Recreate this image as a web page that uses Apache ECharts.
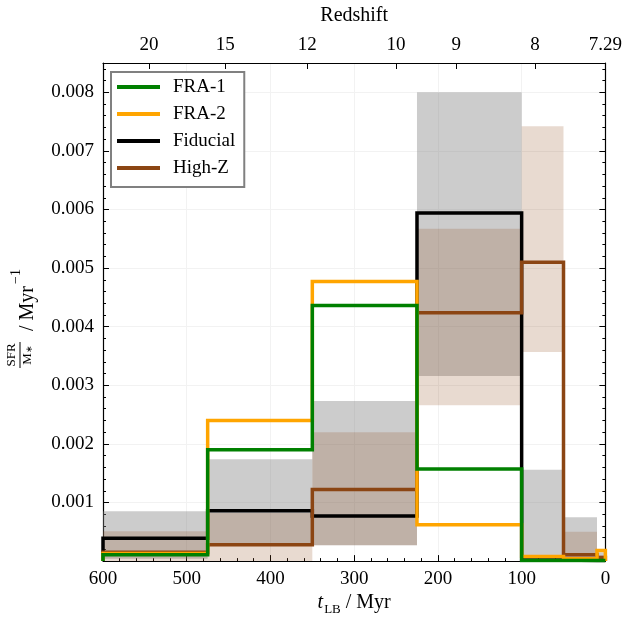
<!DOCTYPE html>
<html>
<head>
<meta charset="utf-8">
<script src="https://cdn.jsdelivr.net/npm/echarts@6/dist/echarts.min.js"></script>
<style>
html, body { margin: 0; padding: 0; background: #fff; }
#sfh { width: 625px; height: 621px; }
</style>
</head>
<body>
<div id="sfh"></div>
<script>
// lookback time bin edges (Myr), oldest bin first
var binEdges = [600, 475, 350, 225, 100, 50, 10, 0];

// SFR / M* per bin (Myr^-1), same order as the bins
var fra1 = [0.00011, 0.0019, 0.00436, 0.00157, 0.00001, 0.00001, 0.00001];
var fra2 = [0.00013, 0.0024, 0.00477, 0.00062, 0.00008, 0.00004, 0.00018];
var fiducial = [0.00039, 0.00086, 0.00077, 0.00594, 0.00002, 0.00001, 0.00001];
var highZ = [0.00015, 0.00028, 0.00122, 0.00424, 0.0051, 0.00011, 0.00006];

// 16-84 percentile bands
var fiducialLo = [0.00004, 0.00026, 0.00027, 0.00316, 0.00002, 0.00005, 0.00001];
var fiducialHi = [0.00085, 0.00174, 0.00273, 0.0080, 0.00156, 0.00075, 0.00015];
var highZLo = [0.0, 0.0, 0.00027, 0.00266, 0.00357, 0.00003, 0.0];
var highZHi = [0.00051, 0.00082, 0.0022, 0.00567, 0.00742, 0.0005, 0.0001];

// top axis: redshift labels and where they sit in lookback time
var zLabels = ['20', '15', '12', '10', '9', '8', '7.29'];
var zLookback = [545, 454, 356, 250, 178, 84, 0];

var FONT = 'Liberation Serif';

// stairs: drop to zero at both ends like plt.stairs
function stairs(vals) {
    var pts = [[binEdges[0], 0]];
    for (var i = 0; i < vals.length; i++) {
        pts.push([binEdges[i], vals[i]]);
    }
    pts.push([binEdges[binEdges.length - 1], vals[vals.length - 1]]);
    pts.push([binEdges[binEdges.length - 1], 0]);
    return pts;
}

function bands(lo, hi) {
    var rows = [];
    for (var i = 0; i < lo.length; i++) {
        rows.push([binEdges[i], binEdges[i + 1], lo[i], hi[i]]);
    }
    return rows;
}

function bandSeries(name, rows, fill) {
    return {
        name: name,
        type: 'custom',
        data: rows,
        encode: { x: [0, 1], y: [2, 3] },
        silent: true,
        renderItem: function (params, api) {
            var a = api.coord([api.value(0), api.value(3)]);
            var b = api.coord([api.value(1), api.value(2)]);
            return {
                type: 'rect',
                shape: {
                    x: Math.min(a[0], b[0]),
                    y: Math.min(a[1], b[1]),
                    width: Math.abs(b[0] - a[0]),
                    height: Math.abs(b[1] - a[1])
                },
                style: { fill: fill }
            };
        }
    };
}

function stepSeries(name, vals, color) {
    return {
        name: name,
        type: 'line',
        step: 'end',
        data: stairs(vals),
        showSymbol: false,
        color: color,
        lineStyle: { color: color, width: 3.5, join: 'miter' },
        itemStyle: { color: color }
    };
}

var myChart = echarts.init(document.getElementById('sfh'));
myChart.setOption({
    animation: false,
    textStyle: { fontFamily: FONT },
    grid: { left: 103, right: 19, top: 63, bottom: 57 },
    legend: {
        data: ['FRA-1', 'FRA-2', 'Fiducial', 'High-Z'],
        orient: 'vertical',
        left: 111,
        top: 72,
        icon: 'rect',
        itemWidth: 43,
        itemHeight: 4,
        itemGap: 7,
        padding: [5, 9, 9, 6],
        borderColor: '#808080',
        borderWidth: 2,
        backgroundColor: '#fff',
        textStyle: { fontFamily: FONT, fontSize: 19, color: '#000', lineHeight: 20, padding: [0, 0, 0, 8] }
    },
    xAxis: [
        {
            type: 'value',
            min: 0,
            max: 600,
            interval: 100,
            inverse: true,
            name: '{i|t}{s|LB}{n| / Myr}',
            nameLocation: 'middle',
            nameGap: 30,
            nameTextStyle: {
                color: '#000',
                rich: {
                    i: { fontFamily: FONT, fontSize: 20, fontStyle: 'italic', verticalAlign: 'top', lineHeight: 22 },
                    s: { fontFamily: FONT, fontSize: 13, verticalAlign: 'top', padding: [10, 0, 0, 1] },
                    n: { fontFamily: FONT, fontSize: 20, verticalAlign: 'top', lineHeight: 22 }
                }
            },
            axisLine: { onZero: false, lineStyle: { color: '#000', width: 1.2 } },
            axisTick: { inside: true, length: 6, lineStyle: { color: '#000' } },
            minorTick: { show: true, splitNumber: 5, length: 3, lineStyle: { color: '#000' } },
            axisLabel: { color: '#000', fontFamily: FONT, fontSize: 19, margin: 8 },
            splitLine: { show: true, lineStyle: { color: '#f2f2f2', width: 1 } }
        },
        {
            type: 'value',
            position: 'top',
            min: 0,
            max: 600,
            inverse: true,
            name: 'Redshift',
            nameLocation: 'middle',
            nameGap: 37,
            nameTextStyle: { color: '#000', fontFamily: FONT, fontSize: 20 },
            axisLine: { onZero: false, lineStyle: { color: '#000', width: 1.2 } },
            axisTick: { inside: true, length: 6, customValues: zLookback, lineStyle: { color: '#000' } },
            axisLabel: {
                color: '#000',
                fontFamily: FONT,
                fontSize: 19,
                margin: 8,
                customValues: zLookback,
                formatter: function (v) {
                    var i = zLookback.indexOf(v);
                    return i < 0 ? '' : zLabels[i];
                }
            },
            splitLine: { show: false }
        }
    ],
    yAxis: [
        {
            type: 'value',
            min: 0,
            max: 0.0085,
            interval: 0.001,
            axisLine: { show: true, onZero: false, lineStyle: { color: '#000', width: 1.2 } },
            axisTick: { show: true, inside: true, length: 6, lineStyle: { color: '#000' } },
            minorTick: { show: true, splitNumber: 5, length: 3, lineStyle: { color: '#000' } },
            axisLabel: {
                color: '#000',
                fontFamily: FONT,
                fontSize: 19,
                margin: 9,
                showMinLabel: false,
                showMaxLabel: false,
                formatter: function (v) { return v.toFixed(3); }
            },
            splitLine: { show: true, lineStyle: { color: '#f2f2f2', width: 1 } }
        },
        {
            type: 'value',
            position: 'right',
            min: 0,
            max: 0.0085,
            interval: 0.001,
            axisLine: { show: true, onZero: false, lineStyle: { color: '#000', width: 1.2 } },
            axisTick: { show: true, inside: true, length: 6, lineStyle: { color: '#000' } },
            minorTick: { show: true, splitNumber: 5, length: 3, lineStyle: { color: '#000' } },
            axisLabel: { show: false },
            splitLine: { show: false }
        }
    ],
    // y axis title: SFR over M* as a stacked fraction, then / Myr^-1
    graphic: [{
        type: 'group',
        x: 20,
        y: 313,
        rotation: Math.PI / 2,
        children: [
            { type: 'text', x: -42, y: -2, style: { text: 'SFR', fontFamily: FONT, fontSize: 13, fill: '#000', align: 'center', verticalAlign: 'bottom' } },
            { type: 'line', shape: { x1: -55, y1: 0, x2: -29, y2: 0 }, style: { stroke: '#000', lineWidth: 1 } },
            { type: 'text', x: -42, y: 1, style: { text: '{m|M}{s|∗}', fill: '#000', align: 'center', verticalAlign: 'top',
                rich: { m: { fontFamily: FONT, fontSize: 13, fill: '#000' }, s: { fontFamily: FONT, fontSize: 9, fill: '#000', verticalAlign: 'bottom' } } } },
            { type: 'text', x: -18, y: 8, style: { text: '/ Myr', fontFamily: FONT, fontSize: 20, fill: '#000', align: 'left', verticalAlign: 'middle' } },
            { type: 'text', x: 29, y: 3, style: { text: '−1', fontFamily: FONT, fontSize: 14, fill: '#000', align: 'left', verticalAlign: 'bottom' } }
        ]
    }],
    series: [
        bandSeries('Fiducial band', bands(fiducialLo, fiducialHi), 'rgba(128,128,128,0.4)'),
        stepSeries('Fiducial', fiducial, '#000000'),
        bandSeries('High-Z band', bands(highZLo, highZHi), 'rgba(139,69,19,0.2)'),
        stepSeries('High-Z', highZ, '#8B4513'),
        stepSeries('FRA-2', fra2, '#FFA500'),
        stepSeries('FRA-1', fra1, '#008000')
    ]
});
</script>
</body>
</html>
